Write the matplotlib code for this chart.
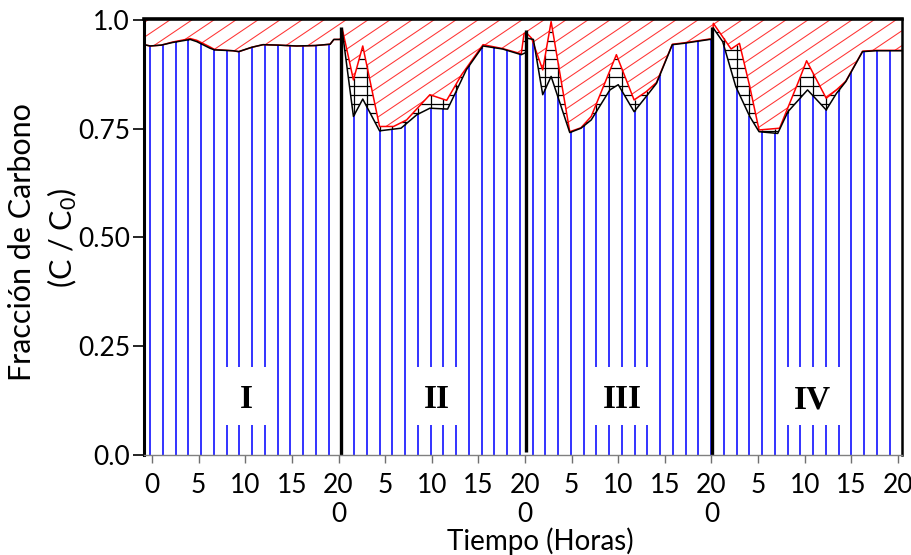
import numpy as np
import matplotlib
matplotlib.use('Agg')
import matplotlib.pyplot as plt
from matplotlib.patches import Polygon, Rectangle
from matplotlib.collections import LineCollection

plt.rcParams['font.family'] = ['Lato', 'DejaVu Sans']
plt.rcParams['mathtext.fontset'] = 'custom'
plt.rcParams['mathtext.rm'] = 'Lato'
plt.rcParams['mathtext.it'] = 'Lato:italic'

# ---------------- data ----------------
# total carbon fraction (black line), hours on a continuous 0-80 axis (4 stages of 20 h)
t_total = [-0.86, -0.2, 1.0, 2.2, 4.1, 4.8, 6.2, 6.7, 8.7, 9.3, 10.7, 11.9, 13.5, 15.5, 17.5, 19.1, 19.5, 20.3,
           20.4, 21.6, 22.6, 24.4, 26.7, 28.4, 29.8, 31.7, 32.6, 33.7, 35.5, 37.6, 39.6, 40.1,
           40.2, 40.9, 41.9, 42.8, 44.8, 46.0, 47.1, 49.1, 50.0, 51.7, 53.0, 54.1, 55.8, 57.0, 59.8, 60.1,
           60.2, 61.2, 62.6, 64.1, 65.1, 67.1, 68.2, 70.3, 72.3, 73.4, 74.4, 76.2, 77.6, 80.43]
c_total = [0.943, 0.940, 0.942, 0.948, 0.955, 0.950, 0.935, 0.931, 0.929, 0.927, 0.937, 0.943, 0.942, 0.940, 0.941, 0.944, 0.955, 0.955,
           0.975, 0.778, 0.818, 0.745, 0.751, 0.782, 0.797, 0.795, 0.835, 0.885, 0.940, 0.933, 0.920, 0.925,
           0.958, 0.955, 0.828, 0.870, 0.741, 0.751, 0.770, 0.839, 0.851, 0.789, 0.824, 0.854, 0.943, 0.946, 0.955, 0.955,
           0.981, 0.950, 0.847, 0.778, 0.743, 0.739, 0.789, 0.839, 0.793, 0.831, 0.858, 0.927, 0.929, 0.929]

# upper fraction (red line)
t_red = [-0.86, -0.2, 1.0, 2.2, 4.1, 4.8, 6.2, 6.7, 8.7, 9.3, 10.7, 11.9, 13.5, 15.5, 17.5, 19.1, 19.5, 20.3,
         20.4, 21.6, 22.6, 24.4, 25.9, 27.3, 29.8, 31.6, 33.2, 35.5, 37.6, 39.6, 39.9, 40.1,
         40.2, 40.7, 41.9, 42.8, 44.8, 46.0, 47.1, 49.8, 51.7, 53.0, 54.1, 55.8, 57.0, 59.8, 60.1,
         60.2, 62.1, 63.0, 64.1, 65.1, 67.3, 69.4, 70.2, 72.3, 73.4, 74.4, 76.2, 77.6, 80.43]
c_red = [0.943, 0.940, 0.942, 0.949, 0.957, 0.953, 0.938, 0.932, 0.929, 0.927, 0.937, 0.943, 0.942, 0.940, 0.941, 0.944, 0.955, 0.955,
         0.980, 0.862, 0.940, 0.755, 0.755, 0.770, 0.828, 0.815, 0.874, 0.943, 0.934, 0.922, 0.969, 0.969,
         0.969, 0.958, 0.885, 0.996, 0.743, 0.752, 0.778, 0.920, 0.816, 0.835, 0.856, 0.944, 0.947, 0.956, 0.956,
         0.992, 0.933, 0.946, 0.847, 0.747, 0.751, 0.862, 0.906, 0.820, 0.839, 0.859, 0.928, 0.930, 0.930]

stage_bounds = [20.3, 40.15, 60.1]
stage_labels = ['I', 'II', 'III', 'IV']
stage_label_t = [10.1, 30.6, 50.4, 70.8]

xtick_pos = [0, 5, 10, 15, 20, 25, 30, 35, 40, 45, 50, 55, 60, 65, 70, 75, 80]
xtick_labels = ['0', '5', '10', '15', '20\n0', '5', '10', '15', '20\n0',
                '5', '10', '15', '20\n0', '5', '10', '15', '20']
ytick_pos = [0.0, 0.25, 0.50, 0.75, 1.0]
ytick_labels = ['0.0', '0.25', '0.50', '0.75', '1.0']

# ---------------- figure ----------------
W, H = 912, 555
fig = plt.figure(figsize=(W / 100, H / 100), dpi=100)
L, R, T, B = 144, 902, 19, 455
ax = fig.add_axes([L / W, 1 - B / H, (R - L) / W, (B - T) / H])
xmin, xmax = -0.86, 80.43
ymin, ymax = 0.0, 1.002
ax.set_xlim(xmin, xmax)
ax.set_ylim(ymin, ymax)
sx = (R - L) / (xmax - xmin)   # px per hour
sy = (B - T) / (ymax - ymin)   # px per unit

tb = np.array(t_total); cb = np.array(c_total)
tr = np.array(t_red); cr = np.array(c_red)

# blue vertical hatch under black curve
dt = 12.75 / sx
tk = np.arange(-0.21, xmax, dt)
tk = tk[tk > xmin]
top_b = np.interp(tk, tb, cb)
top_r = np.interp(tk, tr, cr)
ax.vlines(tk, 0, top_b, colors='#1a1aff', lw=1.25, zorder=2)

# black crosshatch between black and red curves
mask = top_r > top_b + 1e-3
ax.vlines(tk[mask], top_b[mask], top_r[mask], colors='black', lw=0.9, zorder=2)
cross_verts = np.vstack([np.column_stack([tb, cb]), np.column_stack([tr[::-1], cr[::-1]])])
cross_poly = Polygon(cross_verts, closed=True, transform=ax.transData)
hv = np.arange(0.0, 1.0, 9.0 / sy)
hl = ax.hlines(hv, xmin, xmax, colors='black', lw=0.9, zorder=2)
hl.set_clip_path(cross_poly)

# red diagonal hatch above red curve
red_verts = np.vstack([np.column_stack([tr, cr]), [[xmax, ymax + 0.01], [xmin, ymax + 0.01]]])
red_poly = Polygon(red_verts, closed=True, transform=ax.transData)
ang = np.deg2rad(34)
slope = sx * np.tan(ang) / sy
dc = 22.0 * np.tan(ang) / sy
cs = np.arange(0.6 - slope * (xmax - xmin), ymax + 0.05, dc)
segs = [[(xmin, c), (xmax, c + slope * (xmax - xmin))] for c in cs]
lc = LineCollection(segs, colors='#ff3333', linewidths=0.75, zorder=2)
ax.add_collection(lc)
lc.set_clip_path(red_poly)

# curves
ax.plot(tr, cr, color='red', lw=1.1, zorder=4)
ax.plot(tb, cb, color='black', lw=1.1, zorder=5)

# stage separators
ax.vlines(stage_bounds, [0.0, 0.008, 0.0], [0.984, 0.976, 0.984], colors='black', lw=2.4, zorder=6)

# stage labels with white boxes
box_px = [48, 50, 58, 62]
for lab, tx, bw in zip(stage_labels, stage_label_t, box_px):
    w = bw / sx
    ax.add_patch(Rectangle((tx - w / 2, 0.069), w, 0.133, facecolor='white', edgecolor='none', zorder=3))
    ax.text(tx, 0.107, lab, ha='center', va='baseline', fontsize=24, fontweight='bold',
            family='Liberation Serif', zorder=7)

# axes styling
for s, lw, col in [('left', 2.2, 'black'), ('top', 2.6, 'black'), ('right', 1.8, 'black'), ('bottom', 1.0, '#808080')]:
    ax.spines[s].set_linewidth(lw)
    ax.spines[s].set_color(col)
    ax.spines[s].set_zorder(8)

ax.set_xticks(xtick_pos)
ax.set_xticklabels(xtick_labels, fontsize=19, linespacing=1.2)
ax.tick_params(axis='x', direction='out', length=6, width=1, color='#707070', pad=7)
ax.set_yticks(ytick_pos)
ax.set_yticklabels(ytick_labels, fontsize=19)
ax.tick_params(axis='y', direction='out', length=8, width=1.2, color='black', pad=2)

fig.text(22 / W, 1 - 242 / H, 'Fracción de Carbono', rotation=90, ha='center', va='center', fontsize=22)
fig.text(62 / W, 1 - 238 / H, '(C / C$_\\mathrm{0}$)', rotation=90, ha='center', va='center', fontsize=22)
fig.text(540 / W, 1 - 541 / H, 'Tiempo (Horas)', ha='center', va='center', fontsize=20)

fig.savefig('out.png', dpi=100)
